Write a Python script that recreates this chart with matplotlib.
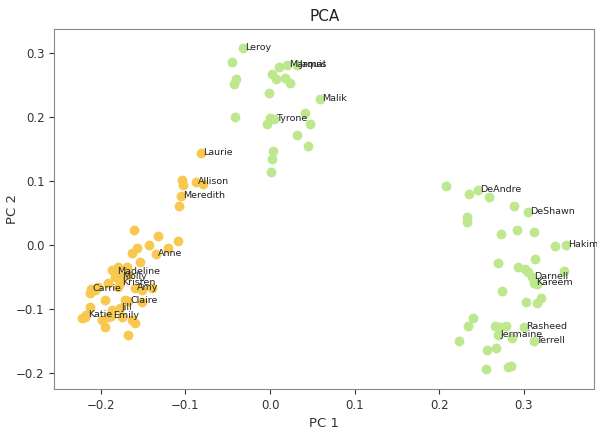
import matplotlib.pyplot as plt
import numpy as np

# labelled points: name, pc1, pc2
girl_names = ['Laurie', 'Allison', 'Meredith', 'Anne', 'Madeline', 'Molly', 'Kristen',
              'Amy', 'Carrie', 'Claire', 'Jill', 'Katie', 'Emily']
girl_x = [-0.0817, -0.0876, -0.1053, -0.1349, -0.1834, -0.1775, -0.1775,
          -0.1598, -0.2118, -0.1680, -0.1775, -0.2178, -0.1882]
girl_y = [0.1435, 0.0983, 0.0764, -0.0140, -0.0421, -0.0499, -0.0593,
          -0.0671, -0.0686, -0.0874, -0.0983, -0.1092, -0.1108]

boy_names = ['Leroy', 'Marquis', 'Jamal', 'Malik', 'Tyrone', 'DeAndre', 'DeShawn',
             'Hakim', 'Darnell', 'Kareem', 'Rasheed', 'Jermaine', 'Terrell']
boy_x = [-0.0320, 0.0201, 0.0320, 0.0592, 0.0047, 0.2462, 0.3053,
         0.3503, 0.3101, 0.3124, 0.3006, 0.2698, 0.3124]
boy_y = [0.3073, 0.2808, 0.2808, 0.2278, 0.1966, 0.0858, 0.0515,
         0.0, -0.0499, -0.0593, -0.1279, -0.1404, -0.1498]

# unlabelled points
girl_ux = [-0.1041, -0.1030, -0.0793, -0.1077, -0.1609, -0.1325, -0.1089, -0.1432,
           -0.1207, -0.1574, -0.1633, -0.1538, -0.1870, -0.1799, -0.1692, -0.1680,
           -0.1834, -0.1917, -0.2036, -0.2071, -0.2130, -0.1799, -0.1515, -0.1396,
           -0.1953, -0.1716, -0.1515, -0.2130, -0.1870, -0.2189, -0.2225, -0.1988,
           -0.1917, -0.1751, -0.1633, -0.1953, -0.1598, -0.1680]
girl_uy = [0.1014, 0.0936, 0.0952, 0.0608, 0.0234, 0.0140, 0.0062, 0.0,
           -0.0047, -0.0047, -0.0125, -0.0265, -0.0390, -0.0343, -0.0343, -0.0468,
           -0.0499, -0.0593, -0.0655, -0.0702, -0.0749, -0.0655, -0.0702, -0.0671,
           -0.0858, -0.0858, -0.0889, -0.0967, -0.1014, -0.1123, -0.1139, -0.1170,
           -0.1123, -0.1123, -0.1170, -0.1279, -0.1217, -0.1404]

boy_ux = [-0.0450, -0.0402, -0.0426, 0.0024, 0.0071, 0.0107, 0.0178, 0.0237,
          -0.0012, -0.0414, 0.0414, 0.0473, 0.0, -0.0036, 0.0320, 0.0450,
          0.0036, 0.0024, 0.0012,
          0.2083, 0.2355, 0.2592, 0.2888, 0.2331, 0.2331, 0.2734, 0.2923, 0.3124,
          0.3373, 0.3136, 0.2698, 0.2935, 0.3018, 0.3053, 0.3479, 0.3160, 0.2746,
          0.3030, 0.3160, 0.3207, 0.2402, 0.2343, 0.2237, 0.2663, 0.2722, 0.2793,
          0.2864, 0.2568, 0.2675, 0.2556, 0.2817, 0.2852]
boy_uy = [0.2855, 0.2590, 0.2512, 0.2668, 0.2590, 0.2777, 0.2605, 0.2527,
          0.2371, 0.1997, 0.2059, 0.1888, 0.1981, 0.1888, 0.1716, 0.1544,
          0.1466, 0.1342, 0.1139,
          0.0920, 0.0796, 0.0749, 0.0608, 0.0437, 0.0359, 0.0172, 0.0234, 0.0203,
          -0.0016, -0.0218, -0.0281, -0.0343, -0.0374, -0.0421, -0.0406, -0.0608, -0.0718,
          -0.0889, -0.0905, -0.0827, -0.1139, -0.1264, -0.1498, -0.1264, -0.1279, -0.1264,
          -0.1451, -0.1638, -0.1607, -0.1934, -0.1903, -0.1888]

yellow = '#f9c850'
green = '#bee88e'

fig = plt.figure(figsize=(5.97, 4.30), dpi=100)
ax = fig.add_axes([0.091, 0.095, 0.904, 0.837])

ax.scatter(girl_ux + girl_x, girl_uy + girl_y, s=50, color=yellow, linewidths=0)
ax.scatter(boy_ux + boy_x, boy_uy + boy_y, s=50, color=green, linewidths=0)

for n, x, y in zip(girl_names + boy_names, girl_x + boy_x, girl_y + boy_y):
    ax.annotate(n, (x, y), xytext=(1.5, 0), textcoords='offset points',
                fontsize=6.8, va='center', ha='left', color='#222222')

ax.set_xlim(-0.255, 0.383)
ax.set_ylim(-0.2251, 0.3365)
ax.set_title('PCA', fontsize=11, color='#222222')
ax.set_xlabel('PC 1', fontsize=9.5, color='#333333')
ax.set_ylabel('PC 2', fontsize=9.5, color='#333333')
ax.yaxis.set_label_coords(-0.065, 0.5)
ax.xaxis.set_label_coords(0.5, -0.077)
ax.tick_params(labelsize=8.5, colors='#333333')
for s in ax.spines.values():
    s.set_color('#888888')

plt.savefig('out.png', dpi=100)
